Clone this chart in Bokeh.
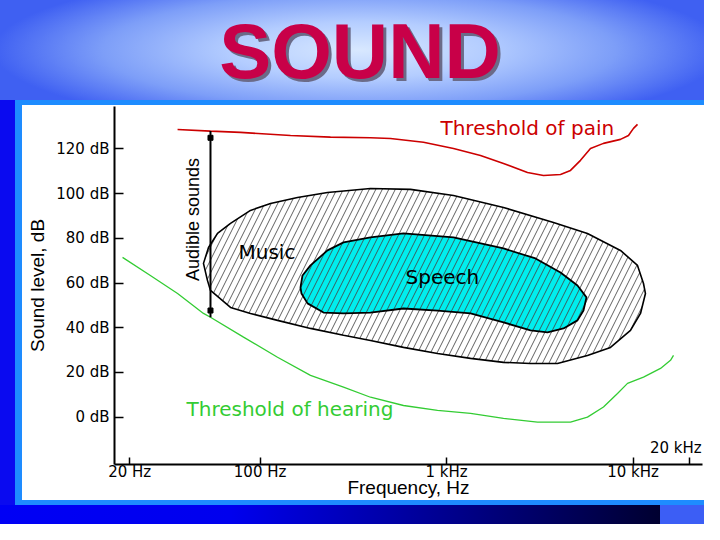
from bokeh.plotting import figure
from bokeh.models import Range1d, FixedTicker, Label, Div
from bokeh.layouts import column
from bokeh.embed import file_html
from bokeh.resources import INLINE

# ---------------- data (frequency in Hz, level in dB) ----------------
pain_freq = [36.1, 54.2, 78.5, 145.6, 238.5, 390.8, 500.3, 751.6, 1089, 1520, 2019,
             2715, 3308, 4081, 4617, 5224, 5909, 6939, 8557, 9447, 10050, 10560]
pain_db = [128.7, 128.0, 127.4, 126.0, 125.3, 125.0, 124.7, 123.0, 120.2, 117.1, 113.5,
           109.5, 108.1, 108.6, 110.4, 114.9, 120.2, 122.5, 124.3, 126.0, 129.2, 131.0]

hearing_freq = [18.3, 25.8, 36.1, 49.7, 54.2, 81.5, 124.0, 186.3, 280.1, 390.8, 587.3,
                893.7, 1344, 2019, 3072, 4617, 5693, 6939, 8249, 9333, 11370, 14030,
                15870, 16470]
hearing_db = [71.5, 63.4, 55.3, 46.4, 44.7, 35.8, 26.8, 18.7, 13.4, 8.9, 5.2,
              3.0, 1.7, -0.6, -2.2, -2.2, 0.0, 4.5, 10.6, 15.1, 17.9, 21.8,
              25.4, 27.6]

music_freq = [49.7, 52.9, 59.1, 69.4, 88.8, 113.7, 158.7, 229.8, 390.8, 640.4, 1089,
              2019, 3743, 5693, 8557, 10560, 11370, 11650, 10960, 9685, 7565, 5693,
              3932, 2818, 2019, 1344, 893.7, 587.3, 390.8, 280.1, 186.3, 124.0, 88.8,
              69.4, 54.2, 52.2]
music_db = [68.8, 75.9, 82.2, 86.7, 92.5, 95.6, 98.3, 100.5, 102.3, 101.9, 99.2,
            93.8, 87.1, 82.2, 74.6, 67.9, 59.8, 55.3, 46.4, 38.8, 31.2, 27.6,
            24.0, 24.0, 24.5, 26.3, 28.5, 31.2, 34.3, 36.6, 39.7, 43.3, 46.4,
            49.1, 56.7, 61.2]

speech_freq = [164.7, 168.8, 186.3, 229.8, 280.1, 390.8, 587.3, 1089, 2019, 2997, 4081,
               5033, 5625, 5420, 5033, 4235, 3475, 2818, 2019, 1344, 893.7, 587.3,
               390.8, 280.1, 218.8, 179.6, 166.7]
speech_db = [58.0, 63.4, 67.9, 74.6, 78.2, 80.4, 82.2, 80.4, 75.5, 71.0, 64.7,
             58.9, 53.6, 47.7, 43.3, 39.7, 37.9, 38.8, 42.4, 46.4, 47.7, 48.6,
             46.8, 46.4, 46.8, 50.9, 55.3]

audible_freq = 54.2
audible_top_db = 128.0
audible_bottom_db = 44.7

y_ticks = [0, 20, 40, 60, 80, 100, 120]
y_tick_labels = ["0 dB", "20 dB", "40 dB", "60 dB", "80 dB", "100 dB", "120 dB"]
x_ticks = [20, 100, 1000, 10000, 20000]
x_tick_labels = ["20 Hz", "100 Hz", "1 kHz", "10 kHz", ""]

W = 704
HEADER_H = 100
CHART_H = 424

# ---------------- header (slide title) ----------------
header_html = (
    '<div style="position:relative;width:%dpx;height:%dpx;overflow:hidden;'
    'background:radial-gradient(ellipse 52%% 80%% at 51%% 50%%, #d8e8ff 0%%, '
    '#b4cdff 35%%, #7d9ef8 70%%, #3f60f2 100%%);">'
    '<div style="position:absolute;left:8px;top:12px;width:%dpx;text-align:center;'
    "font-family:'Liberation Sans';font-weight:bold;font-size:78px;line-height:78px;"
    'color:#c80048;text-shadow:3px 3px 0 #6b6b88;">SOUND</div></div>'
) % (W, HEADER_H, W)
header = Div(text=header_html, width=W, height=HEADER_H, margin=0)

# ---------------- chart ----------------
p = figure(width=W, height=CHART_H, x_axis_type="log",
           x_range=Range1d(16.57, 23560), y_range=Range1d(-21.2, 139.0),
           output_backend="svg", toolbar_location=None,
           min_border_left=114, min_border_right=2, min_border_top=6,
           min_border_bottom=60, margin=0)
p.outline_line_color = None
p.grid.visible = False
p.background_fill_color = "white"
p.border_fill_alpha = 0.0
p.styles = {
    "background": (
        "linear-gradient(#ffffff,#ffffff) 22px 5px / 682px 395px no-repeat,"
        "linear-gradient(#1e8cff,#1e8cff) 15px 0px / 689px 405px no-repeat,"
        "linear-gradient(#0a0af0,#0a0af0) 0px 0px / 15px 405px no-repeat,"
        "linear-gradient(to right,#0000f5 0%,#0000ee 35%,#000030 100%) 0px 405px / 660px 19px no-repeat,"
        "linear-gradient(#3c5ef5,#3c5ef5) 660px 405px / 44px 19px no-repeat"
    )
}

p.yaxis.ticker = FixedTicker(ticks=y_ticks)
p.yaxis.major_label_overrides = dict(zip(y_ticks, y_tick_labels))
p.yaxis.minor_tick_line_color = None
p.yaxis.major_tick_in = 9
p.yaxis.major_tick_out = 0
p.yaxis.major_tick_line_width = 1.5
p.yaxis.axis_line_width = 2
p.yaxis.major_label_standoff = 5
p.yaxis.major_label_text_font = "DejaVu Sans"
p.yaxis.major_label_text_font_size = "15px"
p.yaxis.major_label_text_color = "black"
p.yaxis.axis_label = "Sound level, dB"
p.yaxis.axis_label_text_font = "Liberation Sans"
p.yaxis.axis_label_text_font_style = "normal"
p.yaxis.axis_label_text_font_size = "19px"
p.yaxis.axis_label_text_color = "black"
p.yaxis.axis_label_standoff = 5

p.xaxis.ticker = FixedTicker(ticks=x_ticks)
p.xaxis.major_label_overrides = dict(zip(x_ticks, x_tick_labels))
p.xaxis.minor_tick_line_color = None
p.xaxis.major_tick_in = 7
p.xaxis.major_tick_out = 0
p.xaxis.major_tick_line_width = 1.5
p.xaxis.axis_line_width = 2
p.xaxis.major_label_standoff = -2
p.xaxis.major_label_text_font = "DejaVu Sans"
p.xaxis.major_label_text_font_size = "15px"
p.xaxis.major_label_text_color = "black"
p.xaxis.axis_label = "Frequency, Hz"
p.xaxis.axis_label_text_font = "Liberation Sans"
p.xaxis.axis_label_text_font_style = "normal"
p.xaxis.axis_label_text_font_size = "19px"
p.xaxis.axis_label_text_color = "black"
p.xaxis.axis_label_standoff = -7

# regions and curves
p.patch(music_freq, music_db, fill_color="white", hatch_pattern="/",
        hatch_color="#444444", hatch_alpha=0.85, hatch_scale=13, hatch_weight=1,
        line_color="black", line_width=1.6)
p.patch(speech_freq, speech_db, fill_color="#00eeee", hatch_pattern="/",
        hatch_color="#444444", hatch_alpha=0.85, hatch_scale=13, hatch_weight=1,
        line_color="black", line_width=1.8)
p.line(pain_freq, pain_db, line_color="#cc0000", line_width=1.6)
p.line(hearing_freq, hearing_db, line_color="#33cc33", line_width=1.3)

p.segment(x0=[audible_freq], y0=[audible_top_db], x1=[audible_freq],
          y1=[audible_bottom_db], line_color="black", line_width=2)
p.scatter([audible_freq, audible_freq], [audible_top_db - 3, audible_bottom_db + 3],
          marker="square", size=5, color="black")


def lab(x, y, text, color="black", size="20px", font="DejaVu Sans",
        baseline="alphabetic", **kw):
    p.add_layout(Label(x=x, y=y, text=text, text_color=color, text_font=font,
                       text_font_size=size, text_baseline=baseline, **kw))


lab(927, 129.2, "Threshold of pain", color="#cc0000")
lab(40.3, 3.5, "Threshold of hearing", color="#33cc33")
lab(76.6, 73.7, "Music")
lab(602, 62.5, "Speech")
lab(43.9, 88.4, "Audible sounds", size="18px", font="Liberation Sans",
    baseline="middle", angle=1.5708, text_align="center")
lab(23300, -13.6, "20 kHz", size="15px", text_align="right")

layout = column(header, p, spacing=0)
open("out.html", "w").write(file_html(layout, INLINE))
